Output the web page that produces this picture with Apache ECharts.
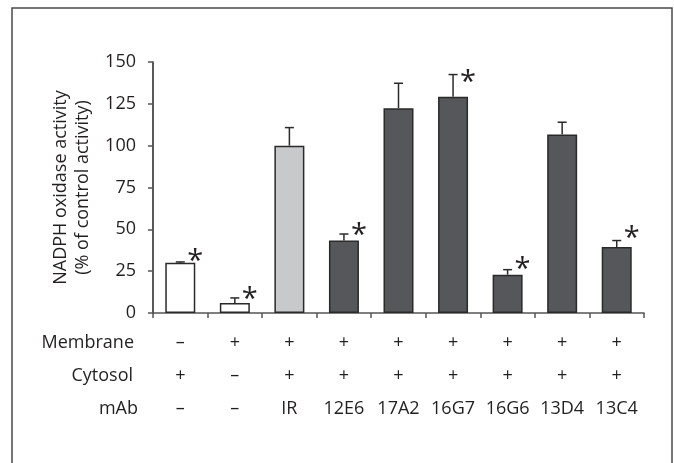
<!DOCTYPE html>
<html>
<head>
<meta charset="utf-8">
<script src="https://cdn.jsdelivr.net/npm/echarts@6/dist/echarts.min.js"></script>
<style>
html,body{margin:0;padding:0;background:#fff;}
#chart{width:674px;height:463px;}
</style>
</head>
<body>
<div id="chart"></div>
<script>
// ---- data ----
var categories = ['1', '2', '3', '4', '5', '6', '7', '8', '9'];
var membrane = ['\u2013', '+', '+', '+', '+', '+', '+', '+', '+'];
var cytosol  = ['+', '\u2013', '+', '+', '+', '+', '+', '+', '+'];
var mAb      = ['\u2013', '\u2013', 'IR', '12E6', '17A2', '16G7', '16G6', '13D4', '13C4'];
var values   = [30, 6, 100, 43.3, 122.4, 129.3, 22.9, 106.6, 39.4];
var errors   = [0.5, 3, 10.8, 3.9, 14.9, 13.2, 3, 7.4, 3.9];
var starY    = [34.8, 12.1, null, 50.3, null, 141.7, 30.0, null, 48.8];
var barFills = ['#ffffff', '#ffffff', '#c8c9cb', '#55575a', '#55575a', '#55575a', '#55575a', '#55575a', '#55575a'];
var yTicks   = [0, 25, 50, 75, 100, 125, 150];

var FONT = '"Open Sans", "Noto Sans", sans-serif';
var TXT = '#231f20';

var chart = echarts.init(document.getElementById('chart'), null, {renderer: 'canvas'});

var barData = values.map(function (v, i) {
  return {value: v, itemStyle: {color: barFills[i]}};
});
var errData = values.map(function (v, i) { return [i, v, v + errors[i]]; });
var starData = [];
starY.forEach(function (s, i) { if (s !== null) starData.push([i, s]); });

var option = {
  animation: false,
  backgroundColor: '#ffffff',
  grid: {left: 153, right: 30, top: 62, bottom: 150, containLabel: false},
  xAxis: {
    type: 'category',
    data: categories,
    boundaryGap: true,
    axisLine: {show: true, lineStyle: {color: '#555', width: 1.5}},
    axisTick: {show: true, inside: false, length: 5, alignWithLabel: false, lineStyle: {color: '#555', width: 1.5}},
    axisLabel: {
      show: true,
      interval: 0,
      margin: 13,
      fontFamily: FONT,
      fontSize: 18,
      color: TXT,
      lineHeight: 33,
      formatter: function (val, idx) {
        return membrane[idx] + '\n' + cytosol[idx] + '\n' + mAb[idx];
      }
    },
    splitLine: {show: false}
  },
  yAxis: {
    type: 'value',
    min: 0,
    max: 150,
    interval: 25,
    axisLine: {show: true, lineStyle: {color: '#222', width: 1.5}},
    axisTick: {show: true, inside: false, length: 5, lineStyle: {color: '#555', width: 1.5}},
    axisLabel: {fontFamily: FONT, fontSize: 18, color: TXT, margin: 17,
      formatter: function (v) { return yTicks.indexOf(v) >= 0 ? String(v) : ''; }},
    splitLine: {show: false},
    name: 'NADPH oxidase activity\n(% of control activity)',
    nameLocation: 'middle',
    nameRotate: 90,
    nameGap: 58,
    nameTextStyle: {fontFamily: FONT, fontSize: 18, color: TXT, lineHeight: 22, align: 'center'}
  },
  series: [
    {
      type: 'bar',
      data: barData,
      barWidth: 30,
      itemStyle: {borderColor: '#2a2a2a', borderWidth: 1.5},
      z: 2
    },
    {
      type: 'custom',
      data: errData,
      z: 3,
      renderItem: function (params, api) {
        var top = api.coord([api.value(0), api.value(2)]);
        var base = api.coord([api.value(0), api.value(1)]);
        var cap = 4.5;
        return {
          type: 'group',
          children: [
            {type: 'line', shape: {x1: base[0], y1: base[1], x2: top[0], y2: top[1]},
              style: {stroke: '#2a2a2a', lineWidth: 1.5}},
            {type: 'line', shape: {x1: top[0] - cap, y1: top[1], x2: top[0] + cap, y2: top[1]},
              style: {stroke: '#2a2a2a', lineWidth: 1.5}}
          ]
        };
      }
    },
    {
      type: 'custom',
      data: starData,
      z: 4,
      renderItem: function (params, api) {
        var p = api.coord([api.value(0), api.value(1)]);
        return {
          type: 'text',
          x: p[0] + 15,
          y: p[1] + 7,
          style: {text: '*', fontFamily: FONT, fontSize: 29, fill: '#231f20',
            align: 'center', verticalAlign: 'middle'}
        };
      }
    }
  ],
  graphic: [
    {type: 'rect', shape: {x: 12, y: 8, width: 660, height: 480},
      style: {fill: 'none', stroke: '#4a4a4a', lineWidth: 1.5}, silent: true},
    {type: 'text', x: 134, y: 343, style: {text: 'Membrane', fontFamily: FONT, fontSize: 18, fill: TXT, align: 'right', verticalAlign: 'middle'}},
    {type: 'text', x: 133, y: 376, style: {text: 'Cytosol', fontFamily: FONT, fontSize: 18, fill: TXT, align: 'right', verticalAlign: 'middle'}},
    {type: 'text', x: 138, y: 409, style: {text: 'mAb', fontFamily: FONT, fontSize: 18, fill: TXT, align: 'right', verticalAlign: 'middle'}}
  ]
};
chart.setOption(option);
</script>
</body>
</html>
